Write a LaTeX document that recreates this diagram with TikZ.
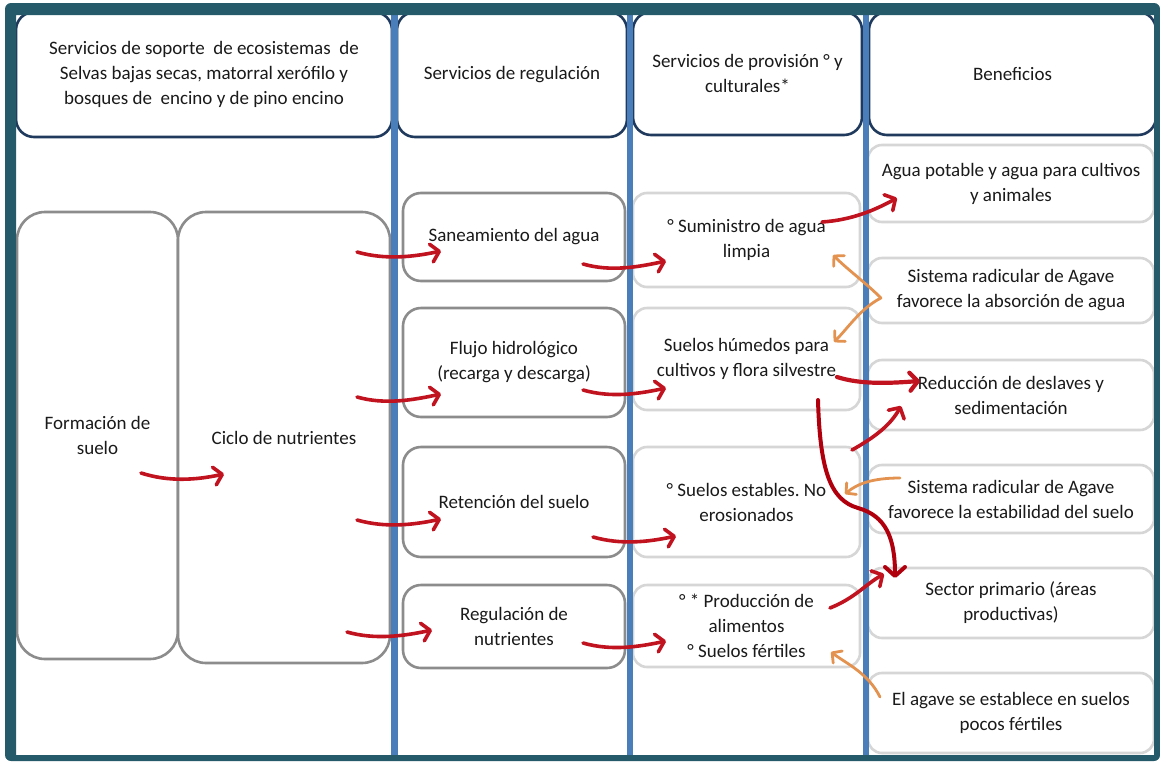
\documentclass[tikz,border=0pt]{standalone}
\usepackage{fontspec}
\setmainfont{Carlito}
\usetikzlibrary{arrows.meta}
\definecolor{framec}{HTML}{245A69}
\definecolor{colline}{HTML}{4A7EBB}
\definecolor{headc}{HTML}{1F3A5C}
\definecolor{midgray}{HTML}{8C8C8C}
\definecolor{palegray}{HTML}{D6D6D6}
\definecolor{arrred}{HTML}{C0121F}
\definecolor{arrdark}{HTML}{B0000E}
\definecolor{arrorange}{HTML}{E3934F}
\definecolor{txt}{HTML}{1A1A1A}

\begin{document}
\frenchspacing
\begin{tikzpicture}[x=1pt,y=-1pt,
  every node/.style={font=\fontsize{19}{25}\selectfont, text=txt, align=center, inner sep=0pt},
  headbox/.style={draw=headc, line width=2.6pt, fill=white, rounded corners=18pt},
  soilbox/.style={draw=midgray, line width=2.6pt, fill=white, rounded corners=28pt},
  regbox/.style={draw=midgray, line width=2.6pt, fill=white, rounded corners=18pt},
  provbox/.style={draw=palegray, line width=2.6pt, fill=white, rounded corners=14pt},
  colsep/.style={draw=colline, line width=6.5pt},
  redarr/.style={draw=arrred, line width=3.6pt, line cap=round,
    -{Straight Barb[length=8pt,width=18pt,round]}},
  bigred/.style={draw=arrdark, line width=4pt, line cap=round,
    -{Straight Barb[length=9pt,width=20pt,round]}},
  orarr/.style={draw=arrorange, line width=2.8pt, line cap=round,
    -{Straight Barb[length=7pt,width=15pt,round]}},
]
\useasboundingbox (0,0) rectangle (1160,761);
\fill[white] (0,0) rectangle (1160,761);

% header row
\node[headbox, minimum width=376pt, minimum height=125pt] (h1) at (204,74.5)
  {Servicios de soporte~ de ecosistemas~ de\\Selvas bajas secas, matorral xerófilo y\\bosques de~ encino y de pino encino};
\node[headbox, minimum width=230pt, minimum height=125pt] (h2) at (512,74.5)
  {Servicios de regulación};
\node[headbox, minimum width=229pt, minimum height=123pt] (h3) at (747.5,73.5)
  {Servicios de provisión ° y\\culturales*};
\node[headbox, minimum width=287pt, minimum height=123pt] (h4) at (1012.5,73.5)
  {Beneficios};

% supporting services
\node[soilbox, minimum width=161pt, minimum height=447pt] (form) at (97.5,435.5)
  {Formación de\\suelo};
\node[soilbox, minimum width=212pt, minimum height=451pt] (ciclo) at (284,437.5)
  {Ciclo de nutrientes};

% regulating services
\node[regbox, minimum width=222pt, minimum height=88pt] (sanea) at (514,237)
  {Saneamiento del agua};
\node[regbox, minimum width=222pt, minimum height=109pt] (flujo) at (514,362.5)
  {Flujo hidrológico\\(recarga y descarga)};
\node[regbox, minimum width=222pt, minimum height=110pt] (reten) at (514,502)
  {Retención del suelo};
\node[regbox, minimum width=222pt, minimum height=83pt] (regul) at (514,626.5)
  {Regulación de\\nutrientes};

% provisioning and cultural services
\node[provbox, minimum width=227pt, minimum height=94pt] (sumin) at (746.5,240)
  {° Suministro de agua\\limpia};
\node[provbox, minimum width=227pt, minimum height=102pt] (humed) at (746.5,359)
  {Suelos húmedos para\\cultivos y flora silvestre};
\node[provbox, minimum width=227pt, minimum height=110pt] (estab) at (746.5,502)
  {° Suelos estables. No\\erosionados};
\node[provbox, minimum width=227pt, minimum height=82pt] (produc) at (746.5,626)
  {° * Producción de\\alimentos\\° Suelos fértiles};

% benefits
\node[provbox, minimum width=286pt, minimum height=77pt] (aguap) at (1011,183.5)
  {Agua potable y agua para cultivos\\y animales};
\node[provbox, minimum width=286pt, minimum height=65pt] (absor) at (1011,290.5)
  {Sistema radicular de Agave\\favorece la absorción de agua};
\node[provbox, minimum width=286pt, minimum height=70pt] (reduc) at (1011,395)
  {Reducción de deslaves y\\sedimentación};
\node[provbox, minimum width=286pt, minimum height=68pt] (estabi) at (1011,499)
  {Sistema radicular de Agave\\favorece la estabilidad del suelo};
\node[provbox, minimum width=286pt, minimum height=70pt] (sector) at (1011,603)
  {Sector primario (áreas\\productivas)};
\node[provbox, minimum width=286pt, minimum height=80pt] (agave) at (1011,713)
  {El agave se establece en suelos\\pocos fértiles};

% column separators
\coordinate (s1t) at (394.5,15); \coordinate (s1b) at (394.5,755);
\coordinate (s2t) at (630,15);   \coordinate (s2b) at (630,755);
\coordinate (s3t) at (866,15);   \coordinate (s3b) at (866,755);
\draw[colsep] (s1t) -- (s1b);
\draw[colsep] (s2t) -- (s2b);
\draw[colsep] (s3t) -- (s3b);

% arrow end points
\coordinate (fa) at (141,473);  \coordinate (fb) at (224,474);
\coordinate (ca1) at (357,252); \coordinate (cb1) at (441,251);
\coordinate (ca2) at (357,397); \coordinate (cb2) at (441,394);
\coordinate (ca3) at (357,520); \coordinate (cb3) at (441,519);
\coordinate (ca4) at (347,632); \coordinate (cb4) at (432,630);
\coordinate (ra1) at (583,264); \coordinate (rb1) at (666,261);
\coordinate (ra2) at (583,390); \coordinate (rb2) at (666,388);
\coordinate (ra3) at (593,537); \coordinate (rb3) at (676,536);
\coordinate (ra4) at (583,643); \coordinate (rb4) at (666,641);
\coordinate (pa1) at (822,222); \coordinate (pb1) at (897,198);
\coordinate (pa2) at (837,377); \coordinate (pb2) at (920,381);
\coordinate (pa3) at (852,450); \coordinate (pb3) at (901,406);
\coordinate (pa4) at (830,608); \coordinate (pb4) at (884,574);
\coordinate (la) at (818,400);  \coordinate (lm) at (858,508); \coordinate (lb) at (895,578);
\coordinate (oj) at (881,298);
\coordinate (ob1) at (833,255); \coordinate (ob2) at (834,342);
\coordinate (oa3) at (900,478); \coordinate (ob3) at (845,494);
\coordinate (oa4) at (880,697); \coordinate (ob4) at (831,652);

% red flow arrows
\draw[redarr] (fa) .. controls +(28,9) and +(-28,6) .. (fb);
\draw[redarr] (ca1) .. controls +(28,8) and +(-28,6) .. (cb1);
\draw[redarr] (ca2) .. controls +(28,8) and +(-28,6) .. (cb2);
\draw[redarr] (ca3) .. controls +(28,8) and +(-28,6) .. (cb3);
\draw[redarr] (ca4) .. controls +(28,8) and +(-28,6) .. (cb4);
\draw[redarr] (ra1) .. controls +(28,8) and +(-28,6) .. (rb1);
\draw[redarr] (ra2) .. controls +(28,8) and +(-28,6) .. (rb2);
\draw[redarr] (ra3) .. controls +(28,8) and +(-28,6) .. (rb3);
\draw[redarr] (ra4) .. controls +(28,8) and +(-28,6) .. (rb4);
\draw[redarr] (pa1) .. controls +(30,-2) and +(-22,12) .. (pb1);
\draw[redarr, line width=4.2pt] (pa2) .. controls +(25,8) and +(-28,2) .. (pb2);
\draw[redarr] (pa3) .. controls +(25,-14) and +(-10,18) .. (pb3);
\draw[redarr] (pa4) .. controls +(25,-10) and +(-18,10) .. (pb4);
\draw[bigred] (la) .. controls +(2,70) and +(-28,-8) .. (lm)
  .. controls +(28,8) and +(0,-40) .. (lb);

% orange arrows
\draw[orarr] (oj) .. controls +(-14,-14) and +(14,14) .. (ob1);
\draw[orarr] (oj) .. controls +(-20,10) and +(14,-14) .. (ob2);
\draw[orarr] (oa3) .. controls +(-28,0) and +(12,-10) .. (ob3);
\draw[orarr] (oa4) .. controls +(-12,-24) and +(16,12) .. (ob4);

% outer frame
\fill[framec, even odd rule]
  [rounded corners=6pt] (5,3) -- (1160,3) -- (1160,761) -- (5,761) -- cycle
  [sharp corners] (16,15) rectangle (1154,755);
\end{tikzpicture}
\end{document}
